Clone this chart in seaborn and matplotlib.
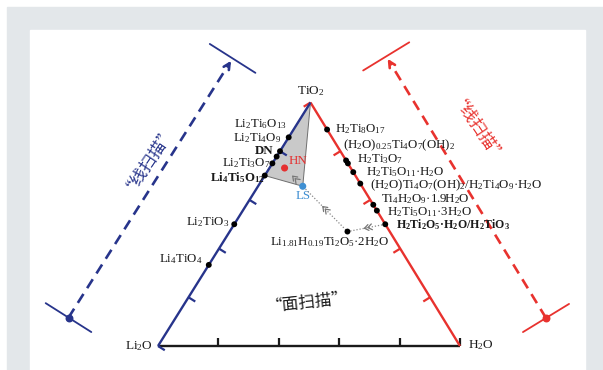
import re
import matplotlib
matplotlib.use('Agg')
import matplotlib.pyplot as plt
from matplotlib.patches import Polygon, Rectangle
import numpy as np
import pandas as pd
import seaborn as sns

# phases on the Li2O-TiO2 join (mole fraction of TiO2)
li_phases = ['Li_4TiO_4', 'Li_2TiO_3', 'Li_4Ti_5O_{12}', 'Li_2Ti_3O_7', 'DN',
             'Li_2Ti_4O_9', 'Li_2Ti_6O_{13}']
li_tio2 = [0.333, 0.5, 0.70, 0.75, 0.778, 0.8, 0.857]
li_bold = [False, False, True, False, True, False, False]

# phases on the H2O-TiO2 join (mole fraction of TiO2)
h_phases = ['H_2Ti_8O_{17}', '(H_2O)_{0.25}Ti_4O_7(OH)_2', 'H_2Ti_3O_7',
            'H_2Ti_5O_{11}·H_2O', '(H_2O)Ti_4O_7(OH)_2/H_2Ti_4O_9·H_2O',
            'Ti_4H_2O_9·1.9H_2O', 'H_2Ti_5O_{11}·3H_2O', 'H_2Ti_2O_5·H_2O/H_2TiO_3']
h_tio2 = [0.889, 0.762, 0.75, 0.714, 0.667, 0.58, 0.556, 0.5]
h_bold = [False, False, False, False, False, False, False, True]

# intermediate products inside the triangle (Li2O, H2O, TiO2)
mid_names = ['Li_{1.81}H_{0.19}Ti_2O_5·2H_2O', 'LS', 'HN']
mid_li2o = [0.14, 0.196, 0.219]
mid_h2o = [0.39, 0.148, 0.05]
mid_tio2 = [0.47, 0.656, 0.731]

axis_ticks = [0.2, 0.4, 0.6, 0.8, 1.0]

# label anchors (layout)
li_label_xy = [(203, 259), (229, 222), (265, 177.5), (270, 163), (273, 150.5), (281, 138), (287, 124.5)]
h_label_xy = [(335, 129), (343, 145), (357, 159.5), (366, 172), (370, 185.5), (381, 199.5),
              (387, 212), (396, 225)]
h_size = [9.3, 9.3, 9.3, 9.3, 9.3, 9.3, 9.3, 8.6]

NAVY = '#27348b'
RED = '#e8322e'
INK = '#1a1a1a'

sns.set_style('white')
plt.rcParams['font.family'] = ['Liberation Serif', 'DejaVu Sans']
plt.rcParams['mathtext.fontset'] = 'custom'
plt.rcParams['mathtext.rm'] = 'Liberation Serif'
plt.rcParams['mathtext.it'] = 'Liberation Serif:italic'
plt.rcParams['mathtext.bf'] = 'Liberation Serif:bold'
CJK = ['Noto Sans CJK SC', 'DejaVu Sans']

fig = plt.figure(figsize=(6.03, 3.70), dpi=100)
ax = fig.add_axes([0, 0, 1, 1])
ax.set_xlim(0, 603)
ax.set_ylim(370, 0)
ax.axis('off')

ax.add_patch(Rectangle((7, 7), 600, 370, color='#e3e7ea', zorder=0))
ax.add_patch(Rectangle((30, 29.5), 555, 350, color='white', zorder=0))

P_LI = np.array([158.0, 346.0])
P_H = np.array([460.0, 346.0])
P_TI = np.array([310.5, 102.5])
CEN = (P_LI + P_H + P_TI) / 3


def to_xy(li, h, ti):
    return li * P_LI + h * P_H + ti * P_TI


def chem(s, bold=False):
    def rep(m):
        t = m.group(1) or m.group(2)
        return (r'$_{\mathbf{%s}}$' % t) if bold else ('$_{%s}$' % t)
    return re.sub(r'_(?:\{([^}]*)\}|(\d))', rep, s)


def edge(a, b, color):
    ax.plot([a[0], b[0]], [a[1], b[1]], color=color, lw=1.7, zorder=3,
            solid_capstyle='butt')
    d = (b - a) / np.linalg.norm(b - a)
    n = np.array([-d[1], d[0]])
    if np.dot(n, CEN - a) < 0:
        n = -n
    for f in axis_ticks:
        p = a + f * (b - a)
        q = p + 8 * n
        ax.plot([p[0], q[0]], [p[1], q[1]], color=color, lw=1.6, zorder=3,
                solid_capstyle='butt')


# gray field
ls_xy = to_xy(mid_li2o[1], mid_h2o[1], mid_tio2[1])
lto_xy = to_xy(1 - li_tio2[2], 0, li_tio2[2])
ax.add_patch(Polygon([P_TI, ls_xy, lto_xy], closed=True, facecolor='#c9c9c9',
                     edgecolor='#6f6f6f', lw=0.7, zorder=2))

edge(P_LI, P_H, INK)
edge(P_H, P_TI, RED)
edge(P_TI, P_LI, NAVY)

# points
rows = []
for t in li_tio2:
    x, y = to_xy(1 - t, 0, t)
    rows.append((x, y))
for t in h_tio2:
    x, y = to_xy(0, 1 - t, t)
    rows.append((x, y))
x, y = to_xy(mid_li2o[0], mid_h2o[0], mid_tio2[0])
rows.append((x, y))
pts = pd.DataFrame(rows, columns=['x', 'y'])
sns.scatterplot(data=pts, x='x', y='y', color='black', s=18, edgecolor='none',
                legend=False, ax=ax, zorder=5)

special = pd.DataFrame([to_xy(mid_li2o[i], mid_h2o[i], mid_tio2[i]) for i in (1, 2)],
                       columns=['x', 'y'])
special['kind'] = ['LS', 'HN']
sns.scatterplot(data=special, x='x', y='y', hue='kind',
                palette={'LS': '#3f8fd2', 'HN': '#e53030'}, s=26, edgecolor='none',
                legend=False, ax=ax, zorder=6)

# labels
for name, b, (lx, ly) in zip(li_phases, li_bold, li_label_xy):
    ax.text(lx, ly, chem(name, b), ha='right', va='center', fontsize=9.3, color=INK,
            fontweight='bold' if b else 'normal', zorder=7)
for name, b, fs, (lx, ly) in zip(h_phases, h_bold, h_size, h_label_xy):
    ax.text(lx, ly, chem(name, b), ha='left', va='center', fontsize=fs, color=INK,
            fontweight='bold' if b else 'normal', zorder=7)
ax.text(330, 242, chem(mid_names[0]), ha='center', va='center', fontsize=9.3, color=INK)
ax.text(ls_xy[0], ls_xy[1] + 10, mid_names[1], ha='center', va='center', fontsize=9.3,
        color='#3f8fd2')
hn_xy = to_xy(mid_li2o[2], mid_h2o[2], mid_tio2[2])
ax.text(hn_xy[0] + 4, hn_xy[1] - 7, mid_names[2], ha='left', va='center', fontsize=9.3,
        color='#e53030')

ax.text(P_LI[0] - 5, P_LI[1], chem('Li_2O'), ha='right', va='center', fontsize=9.5, color=INK)
ax.text(P_H[0] + 8, P_H[1] - 1, chem('H_2O'), ha='left', va='center', fontsize=9.5, color=INK)
ax.text(P_TI[0], P_TI[1] - 11, chem('TiO_2'), ha='center', va='center', fontsize=9.5, color=INK)

# reaction path
path_pts = [to_xy(0, 1 - h_tio2[-1], h_tio2[-1]),
            to_xy(mid_li2o[0], mid_h2o[0], mid_tio2[0]), ls_xy]
px = [p[0] for p in path_pts]
py = [p[1] for p in path_pts]
ax.plot(px, py, color='#8a8a8a', lw=0.9, ls=(0, (1, 1.5)), zorder=4)


def chevrons(a, b, frac):
    d = (b - a) / np.linalg.norm(b - a)
    m = a + frac * (b - a)
    for k in (0, 3.5):
        tip = m - k * d
        for ang in (np.pi / 5, -np.pi / 5):
            r = np.array([d[0] * np.cos(ang) - d[1] * np.sin(ang),
                          d[0] * np.sin(ang) + d[1] * np.cos(ang)])
            q = tip - 5 * r
            ax.plot([tip[0], q[0]], [tip[1], q[1]], color='#777777', lw=0.9, zorder=4)


chevrons(path_pts[0], path_pts[1], 0.55)
chevrons(path_pts[1], path_pts[2], 0.55)
chevrons(ls_xy, hn_xy, 0.55)

# line-scan guides
for bottom, top, col in [((68.5, 317.6), (232.6, 58.4), NAVY),
                         ((546.0, 318.0), (386.2, 56.4), RED)]:
    bottom = np.array(bottom)
    top = np.array(top)
    u = (top - bottom) / np.linalg.norm(top - bottom)
    n = np.array([-u[1], u[0]]) * 27
    for c in (bottom, top):
        ax.plot([c[0] - n[0], c[0] + n[0]], [c[1] - n[1], c[1] + n[1]], color=col, lw=1.3,
                zorder=3)
    end = top - 9 * u
    ax.plot([bottom[0], end[0]], [bottom[1], end[1]], color=col, lw=1.9,
            ls=(0, (4, 2.6)), zorder=3)
    ax.annotate('', xy=top, xytext=top - 11 * u,
                arrowprops=dict(arrowstyle='->', color=col, lw=1.9, mutation_scale=11),
                zorder=4)
    ax.scatter([bottom[0]], [bottom[1]], s=22, color=col, zorder=4)

ax.text(145, 154, '“线扫描”', family=CJK, fontsize=12, color=NAVY, rotation=56,
        ha='center', va='center')
ax.text(472, 136, '“线扫描”', family=CJK, fontsize=12, color=RED, rotation=-56,
        ha='center', va='center')
ax.text(307, 302, '“面扫描”', family=CJK, fontsize=12, color=INK, rotation=6,
        ha='center', va='center')

fig.savefig('out.png', dpi=100)
